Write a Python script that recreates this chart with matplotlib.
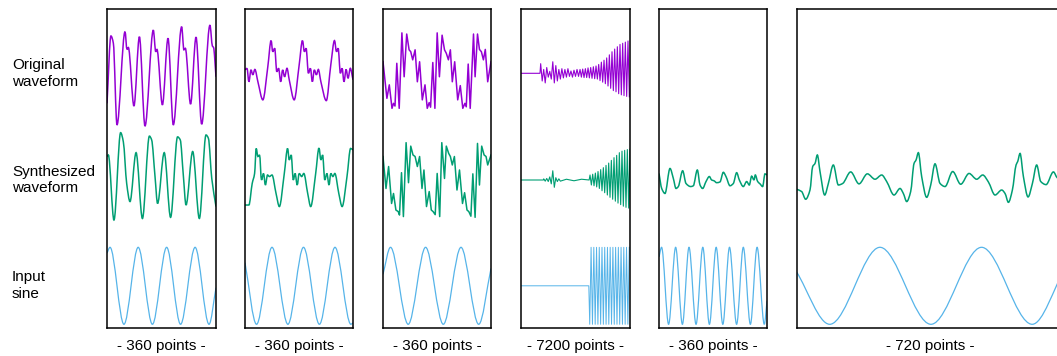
import numpy as np
import matplotlib
matplotlib.use("Agg")
import matplotlib.pyplot as plt
from matplotlib.path import Path
from matplotlib.patches import PathPatch

plt.rcParams['font.family'] = ['Liberation Sans', 'DejaVu Sans']

# ---------- datos ----------
ROW_LABELS = ["Original\nwaveform", "Synthesized\nwaveform", "Input\nsine"]
PANEL_POINTS = [360, 360, 360, 7200, 360, 720]
BOTTOM_LABELS = ["- 360 points -", "- 360 points -", "- 360 points -",
                 "- 7200 points -", "- 360 points -", "- 720 points -"]

PURPLE = "#9400D3"
GREEN = "#009E73"
BLUE = "#56B4E9"

# Panel 1
ORIG1_X = [0, 13, 21, 33, 59.5, 66, 70.5, 89, 107, 125.5, 153, 161, 165, 183, 201.5, 219,
           246.6, 254, 258.7, 276, 294, 312.7, 340, 348, 352, 360]
ORIG1_Y = [-0.78, 0.97, 0.78, -1.34, 1.08, 0.62, 0.67, -0.85, 0.95, -1.37, 1.12, 0.56, 0.62,
           -0.82, 0.91, -1.34, 1.21, 0.61, 0.65, -0.80, 0.94, -1.32, 1.25, 0.71, 0.67, -0.09]
SYN1_X = [0, 4.4, 23, 45, 54, 65, 76, 96, 117, 140, 147.5, 158.6, 167, 189, 210, 233, 242,
          252, 261, 283, 305, 327, 335, 346, 360]
SYN1_Y = [0.61, 0.65, -1.04, 1.23, 0.99, -0.09, -0.56, 0.71, -1.0, 1.14, 1.04, 0.09, -0.61,
          0.71, -0.97, 1.12, 1.04, 0.13, -0.65, 0.74, -1.0, 1.17, 1.08, 0.04, -0.69]
SINE1_X = [0, 10, 56, 103, 150, 197, 243, 291, 337, 360]
SINE1_Y = [0.85, 1, -1, 1, -1, 1, -1, 1, -1, -0.05]

# Panel 2
ORIG2_X = [0, 6.6, 13, 20, 26, 33, 43, 59.5, 76, 87, 92.5, 99, 106, 112, 119, 125.5, 132, 140,
           147.5, 164, 180.6, 191.6, 198, 203.7, 211.4, 218, 224.6, 231, 238, 244.4, 253,
           271, 286, 298.4, 305, 310.5, 318, 323.7, 330, 337, 343.5, 351, 360]
ORIG2_Y = [0.09, 0.13, -0.22, 0.09, -0.04, 0.10, -0.22, -0.69, 0.17, 0.85, 0.56, 0.65, 0.04,
           0.13, -0.22, 0.09, -0.09, 0.13, -0.17, -0.69, 0.22, 0.85, 0.56, 0.65, 0.0, 0.13,
           -0.22, 0.09, -0.04, 0.10, -0.22, -0.71, 0.22, 0.85, 0.56, 0.65, 0.0, 0.13, -0.22,
           0.10, -0.13, 0.13, -0.17]
SYN2_X = [0, 13, 24, 32, 37.4, 43, 48.5, 55, 61.7, 68, 75, 81.5, 90, 103.5, 114.5, 131, 142,
          147.5, 154, 161, 167, 174, 180.6, 189, 196, 209, 219, 235.6, 246.6, 253, 258.7,
          266, 273, 280, 286, 293, 299.5, 312.7, 323.7, 340, 352, 360]
SYN2_Y = [-0.65, -0.65, -0.09, 0.17, 0.82, 0.61, 0.65, 0.0, 0.17, -0.13, 0.13, 0.09, 0.13,
          -0.35, -0.69, 0.17, 0.82, 0.52, 0.65, 0.0, 0.17, -0.13, 0.17, 0.09, 0.17, -0.35,
          -0.69, 0.17, 0.83, 0.52, 0.65, 0.0, 0.17, -0.13, 0.17, 0.09, 0.17, -0.35, -0.69,
          0.09, 0.82, 0.78]
SINE2_X = [0, 38.5, 90, 143, 195, 248, 300, 353, 360]
SINE2_Y = [0.6, -1, 1, -1, 1, -1, 1, -1, -0.96]

# Panel 3
ORIG3_X = [0, 13, 21, 30, 35, 40, 46, 54, 63, 70.5, 79, 87, 92.5, 99, 107, 114.5, 122, 131,
           140, 147.5, 154, 158.6, 166, 173, 180.6, 188, 197, 205, 211, 218, 224.6, 231, 239,
           249, 257.6, 266, 273, 277.5, 284, 290.7, 301.7, 307, 315, 321.5, 328, 334.7, 341,
           349, 360]
ORIG3_Y = [0.30, -0.65, -0.30, -0.91, -0.78, -0.85, 0.26, -0.91, 1.05, -0.09, 1.02, 0.61, 0.56,
           0.35, 0.61, -0.22, 0.30, -0.69, -0.30, -0.91, -0.76, -0.88, 0.28, -0.91, 1.05,
           -0.09, 0.99, 0.61, 0.52, 0.35, 0.61, -0.22, 0.30, -0.69, -0.32, -0.91, -0.78,
           -0.87, 0.24, -0.91, 1.02, -0.09, 1.02, 0.62, 0.56, 0.35, 0.62, -0.22, 0.30]
SYN3_X = [0, 10, 18.7, 28.6, 35, 43, 50.7, 55, 61.7, 68, 77, 85, 92.5, 100, 107, 114.5, 122,
          130, 136.5, 145, 154, 161, 167, 174, 180.6, 189, 196, 205, 211, 219, 224.6, 231,
          238, 246.6, 255, 265, 272, 280, 286, 293, 299.5, 307, 315, 321.5, 329, 337, 343.5,
          349, 360]
SYN3_Y = [0.61, -0.22, 0.35, -0.61, -0.35, -0.78, -0.82, -0.91, 0.19, -0.95, 0.97, -0.07, 0.88,
          0.65, 0.61, 0.35, 0.61, -0.22, 0.26, -0.69, -0.30, -0.78, -0.82, -0.90, 0.17,
          -0.95, 0.97, 0.04, 0.88, 0.69, 0.61, 0.39, 0.61, -0.26, 0.26, -0.61, -0.33, -0.78,
          -0.82, -0.94, 0.16, -0.97, 0.95, -0.13, 0.88, 0.65, 0.61, 0.39, 0.65]
SINE3_X = [0, 25, 84, 142, 201, 260, 319, 360]
SINE3_Y = [0.3, 1, -1, 1, -1, 1, -1, 0.45]

# Panel 4 (7200 points: flat start, noise, then growing oscillation)
ORIG4_X = [0, 1255] + list(range(1300, 3900, 100)) + list(range(3900, 7200, 88))
ORIG4_Y = [0, 0,
           0.25, -0.20, 0.10, -0.25, 0.15, -0.10, 0.05, -0.15, 0.30, -0.25, 0.20, -0.20, 0.10,
           -0.15, 0.12, -0.12, 0.10, -0.10, 0.12, -0.08, 0.06, -0.10, 0.08, -0.08, 0.10, -0.08,
           0.10, -0.10, 0.11, -0.11, 0.12, -0.11, 0.14, -0.12, 0.15, -0.13, 0.17, -0.14, 0.19,
           -0.15, 0.23, -0.19, 0.29, -0.23, 0.34, -0.27, 0.40, -0.33, 0.48, -0.39, 0.56, -0.45,
           0.63, -0.48, 0.69, -0.53, 0.75, -0.56, 0.78, -0.58, 0.81, -0.60, 0.84, -0.61]
SYN4_X = [0, 1475] + list(range(1500, 2700, 100)) + [3000, 3500, 4000, 4500] \
    + list(range(4560, 7201, 88))
SYN4_Y = [0, 0,
          0.03, -0.03, 0.04, -0.04, 0.08, -0.10, 0.24, -0.19, 0.06, -0.04, 0.03, -0.03,
          0.02, -0.02, 0.02, 0.0,
          0.13, -0.13, 0.15, -0.15, 0.18, -0.18, 0.22, -0.22, 0.27, -0.28, 0.32, -0.33, 0.38,
          -0.39, 0.44, -0.45, 0.51, -0.50, 0.58, -0.55, 0.64, -0.60, 0.71, -0.64, 0.75, -0.68,
          0.77, -0.71, 0.79, -0.73, 0.80]
SINE4_X = [0, 4478] + list(range(4540, 7201, 90))
SINE4_Y = [0, 0,
           -1, 1, -1, 1, -1, 1, -1, 1, -1, 1,
           -1, 1, -1, 1, -1, 1, -1, 1, -1, 1,
           -1, 1, -1, 1, -1, 1, -1, 1, -1, 1]

# Panel 5
SYN5_X = [0, 9, 20, 36.7, 47.8, 56.7, 64.4, 78.9, 90, 105.5, 114.4, 127.8, 136.7, 145.5,
          156.7, 167.8, 175.5, 183.3, 192.2, 203.3, 214.4, 223.3, 236.7, 247.8, 258.9, 267.8,
          281, 292.2, 301, 308.9, 316.7, 321, 328.9, 336.7, 345.5, 353.3, 360]
SYN5_Y = [0.17, -0.22, -0.35, 0.30, 0.04, -0.22, -0.17, 0.24, -0.09, -0.17, -0.15, 0.26,
          -0.13, -0.22, -0.04, 0.09, 0.0, -0.02, -0.07, -0.05, 0.20, 0.09, -0.15, -0.09,
          0.19, 0.0, -0.17, -0.04, -0.13, 0.10, 0.0, 0.13, -0.04, -0.10, -0.17, 0.16, 0.13]
SINE5_X = [0, 8.6, 32, 55.5, 78, 100, 123.5, 146, 168, 190.6, 212.7, 235, 258.7, 281, 304.6,
           327, 351, 360]
SINE5_Y = [0.75, 1, -1, 1, -1, 1, -1, 1, -1, 1, -1, 1, -1, 1, -1, 1, -1, -0.4]

# Panel 6
SYN6_X = [0, 13.6, 24.4, 36, 43.2, 49.5, 55.7, 62.9, 75.5, 85.3, 98.7, 112.2, 123.8, 145.3,
          167.7, 190.1, 210.7, 228.6, 242, 261.8, 277.9, 286.8, 295.8, 306.5, 315.5, 320.9,
          327.1, 336, 349.5, 360.3, 371.9, 385.4, 398.8, 419.4, 440.9, 463.3, 483.9, 500,
          515.2, 533.2, 551, 560, 569, 579.7, 589.6, 594, 600.3, 609.3, 621.8, 633.5, 645,
          655.9, 670.2, 690, 700, 720]
SYN6_Y = [-0.24, -0.30, -0.50, -0.26, 0.35, 0.43, 0.65, 0.22, -0.39, -0.09, 0.39, -0.13, -0.09,
          0.21, -0.10, 0.16, 0.02, 0.13, -0.04, -0.39, -0.22, -0.35, -0.56, -0.30, 0.43, 0.52,
          0.71, 0.09, -0.45, -0.13, 0.42, -0.09, -0.17, 0.22, -0.11, 0.17, 0.02, 0.13, -0.05,
          -0.39, -0.26, -0.35, -0.58, -0.26, 0.39, 0.48, 0.69, 0.09, -0.44, -0.09, 0.39, -0.04,
          -0.12, 0.21, 0.06, -0.05]
SINE6_X = [0, 89, 224, 361, 497, 633, 720]
SINE6_Y = [0.36, -1, 1, -1, 1, -1, 0.43]

# (original, synthesized, sine) per panel; None = empty row
PANEL_DATA = [
    ((ORIG1_X, ORIG1_Y), (SYN1_X, SYN1_Y), (SINE1_X, SINE1_Y)),
    ((ORIG2_X, ORIG2_Y), (SYN2_X, SYN2_Y), (SINE2_X, SINE2_Y)),
    ((ORIG3_X, ORIG3_Y), (SYN3_X, SYN3_Y), (SINE3_X, SINE3_Y)),
    ((ORIG4_X, ORIG4_Y), (SYN4_X, SYN4_Y), (SINE4_X, SINE4_Y)),
    (None, (SYN5_X, SYN5_Y), (SINE5_X, SINE5_Y)),
    (None, (SYN6_X, SYN6_Y), (SINE6_X, SINE6_Y)),
]
# Curva suave o trazos rectos, por panel y por fila
SMOOTH = [(True, True, True), (True, True, True), (False, False, True),
          (False, False, False), (True, True, True), (True, True, True)]

# ---------- layout (pixeles de la imagen) ----------
W, H = 1057, 356
PANEL_LEFT = [107, 245, 383, 521, 659, 796.6]
PANEL_WIDTH = [109, 108, 108, 109, 108, 268]
PANEL_TOP, PANEL_BOTTOM = 9, 328
ROW_CENTER = [73.3, 180, 285.8]   # original, sintetizada, seno
UNIT = 38.5                       # pixeles por unidad de amplitud
COLORS = [PURPLE, GREEN, BLUE]


# Curva suave (Hermite monotona) dibujada como Bezier por matplotlib
def CurvaSuave(x, y):
    x = np.asarray(x, float)
    y = np.asarray(y, float)
    h = np.diff(x)
    d = np.diff(y) / h
    m = np.zeros_like(y)
    m[0], m[-1] = d[0], d[-1]
    for i in range(1, len(y) - 1):
        if d[i - 1] * d[i] > 0:
            m[i] = 2 / (1 / d[i - 1] + 1 / d[i])
    verts = [(x[0], y[0])]
    codes = [Path.MOVETO]
    for i in range(len(h)):
        verts += [(x[i] + h[i] / 3, y[i] + m[i] * h[i] / 3),
                  (x[i + 1] - h[i] / 3, y[i + 1] - m[i + 1] * h[i] / 3),
                  (x[i + 1], y[i + 1])]
        codes += [Path.CURVE4] * 3
    return Path(verts, codes)


fig = plt.figure(figsize=(W / 100, H / 100), dpi=100)

ymin = -(PANEL_BOTTOM - ROW_CENTER[2]) / UNIT
ymax = (ROW_CENTER[2] - PANEL_TOP) / UNIT
offsets = [(ROW_CENTER[2] - c) / UNIT for c in ROW_CENTER]

for p in range(6):
    ax = fig.add_axes([PANEL_LEFT[p] / W, 1 - PANEL_BOTTOM / H,
                       PANEL_WIDTH[p] / W, (PANEL_BOTTOM - PANEL_TOP) / H])
    for r, serie in enumerate(PANEL_DATA[p]):
        if serie is None:
            continue
        xs, ys = serie
        n = min(len(xs), len(ys))
        xs = np.asarray(xs[:n], float)
        ys = np.asarray(ys[:n], float) + offsets[r]
        lw = 1.1 if r < 2 else 0.9
        if p == 3:
            lw = 0.8 if r < 2 else 0.7
        if SMOOTH[p][r]:
            ax.add_patch(PathPatch(CurvaSuave(xs, ys), fill=False, edgecolor=COLORS[r], lw=lw))
        else:
            ax.plot(xs, ys, color=COLORS[r], lw=lw)
    ax.set_xlim(0, PANEL_POINTS[p])
    ax.set_ylim(ymin, ymax)
    ax.set_xticks([])
    ax.set_yticks([])
    for s in ax.spines.values():
        s.set_linewidth(1.1)
        s.set_color("black")
    fig.text((PANEL_LEFT[p] + PANEL_WIDTH[p] / 2) / W, 1 - 346 / H, BOTTOM_LABELS[p],
             ha="center", va="center", fontsize=11)

for r in range(3):
    fig.text(12 / W, 1 - ROW_CENTER[r] / H, ROW_LABELS[r], ha="left", va="center",
             fontsize=11, linespacing=1.25)

fig.savefig("out.png", dpi=100)
